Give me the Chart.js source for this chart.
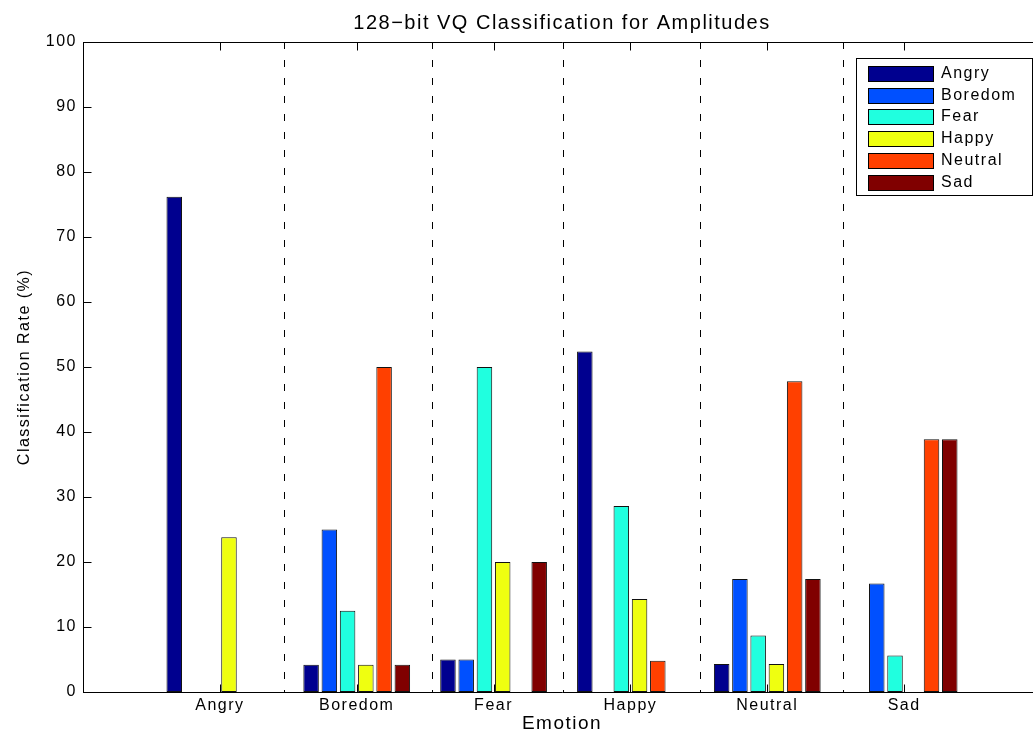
<!DOCTYPE html>
<html>
<head>
<meta charset="utf-8">
<script src="https://cdn.jsdelivr.net/npm/chart.js@4.4.1/dist/chart.umd.min.js"></script>
<style>
html, body { margin: 0; padding: 0; background: #fff; overflow: hidden; }
#wrap { width: 1045px; height: 733px; }
</style>
</head>
<body>
<div id="wrap"><canvas id="chart" width="1045" height="733"></canvas></div>
<script>
// true emotion of the test set (groups along x)
const emotions = ['Angry', 'Boredom', 'Fear', 'Happy', 'Neutral', 'Sad'];

// classification rate (%) per group, one array per predicted class
const angryRates   = [76.2, 4.2, 5.0, 52.4, 4.3, 0];
const boredomRates = [0, 25.0, 5.0, 0, 17.4, 16.7];
const fearRates    = [0, 12.5, 50.0, 28.6, 8.7, 5.6];
const happyRates   = [23.8, 4.2, 20.0, 14.3, 4.3, 0];
const neutralRates = [0, 50.0, 0, 4.8, 47.8, 38.9];
const sadRates     = [0, 4.2, 20.0, 0, 17.4, 38.9];

const seriesColors = ['#00008f', '#0050ff', '#20ffdf', '#efff10', '#ff4000', '#800000'];

// dashed separators between the groups (x in group units)
const dividers = [1.47, 2.55, 3.51, 4.51, 5.55];

const FONT = 'Liberation Sans, Arial, Helvetica, sans-serif';
Chart.defaults.font.family = FONT;
Chart.defaults.color = '#000';

const allRates = [angryRates, boredomRates, fearRates, happyRates, neutralRates, sadRates];

const datasets = allRates.map((rates, i) => ({
    label: emotions[i],
    data: rates.map((v, j) => ({ x: j + 1, y: v })),
    backgroundColor: seriesColors[i],
    borderColor: '#111',
    borderWidth: 1,
    borderSkipped: false
}));

// MATLAB-ish text is wider than Arial, add some spacing
const spacingPlugin = {
    id: 'spacing',
    beforeDraw(chart) {
        chart.ctx.letterSpacing = '1.5px';
    }
};

const framePlugin = {
    id: 'frame',
    beforeDatasetsDraw(chart) {
        const { ctx, chartArea, scales } = chart;
        ctx.save();
        ctx.strokeStyle = '#000';
        ctx.lineWidth = 1;
        ctx.setLineDash([7, 11]);
        dividers.forEach(d => {
            const x = Math.round(scales.x.getPixelForValue(d)) + 0.5;
            ctx.beginPath();
            ctx.moveTo(x, chartArea.top);
            ctx.lineTo(x, chartArea.bottom);
            ctx.stroke();
        });
        ctx.restore();
    },
    afterDatasetsDraw(chart) {
        const { ctx, chartArea, scales } = chart;
        const l = chartArea.left + 0.5, r = chartArea.right + 0.5;
        const t = chartArea.top + 0.5, b = chartArea.bottom + 0.5;
        ctx.save();
        ctx.strokeStyle = '#000';
        ctx.lineWidth = 1;
        ctx.beginPath();
        ctx.moveTo(l, t); ctx.lineTo(r, t); ctx.lineTo(r, b);
        ctx.stroke();

        // inward tick marks
        const len = 8;
        ctx.beginPath();
        scales.y.ticks.forEach(tk => {
            const y = Math.round(scales.y.getPixelForValue(tk.value)) + 0.5;
            ctx.moveTo(l, y); ctx.lineTo(l + len, y);
            ctx.moveTo(r, y); ctx.lineTo(r - len, y);
        });
        emotions.forEach((e, i) => {
            const x = Math.round(scales.x.getPixelForValue(i + 1)) + 0.5;
            ctx.moveTo(x, b); ctx.lineTo(x, b - len);
            ctx.moveTo(x, t); ctx.lineTo(x, t + len);
        });
        ctx.stroke();
        ctx.restore();
    }
};

const legendPlugin = {
    id: 'boxLegend',
    afterDraw(chart) {
        const ctx = chart.ctx;
        const left = 856, top = 58, w = 176, h = 137;
        ctx.save();
        ctx.fillStyle = '#fff';
        ctx.fillRect(left, top, w, h);
        ctx.strokeStyle = '#000';
        ctx.lineWidth = 1;
        ctx.strokeRect(left + 0.5, top + 0.5, w, h);
        ctx.font = '16px ' + FONT;
        ctx.textBaseline = 'middle';
        ctx.textAlign = 'left';
        chart.data.datasets.forEach((ds, i) => {
            const y = Math.round(66 + i * 21.7);
            ctx.fillStyle = ds.backgroundColor;
            ctx.fillRect(868, y, 65, 15);
            ctx.strokeRect(868.5, y + 0.5, 65, 15);
            ctx.fillStyle = '#000';
            ctx.fillText(ds.label, 941, y + 8);
        });
        ctx.restore();
    }
};

new Chart(document.getElementById('chart'), {
    type: 'bar',
    data: { datasets: datasets },
    options: {
        responsive: false,
        animation: false,
        layout: { padding: { left: 0, right: 3, top: 0, bottom: 0 } },
        datasets: { bar: { categoryPercentage: 0.8, barPercentage: 0.85 } },
        plugins: {
            legend: { display: false },
            tooltip: { enabled: false },
            title: {
                display: true,
                fullSize: false,
                text: '128\u2212bit VQ Classification for Amplitudes',
                color: '#000',
                font: { size: 20, weight: 'normal', lineHeight: 1.2 },
                padding: { top: 11, bottom: 7 }
            }
        },
        scales: {
            x: {
                type: 'linear',
                min: 0,
                max: 7,
                offset: false,
                afterFit: s => { s.height = 41; },
                grid: { display: false, drawTicks: false, offset: false },
                border: { display: true, color: '#000', width: 1 },
                ticks: {
                    stepSize: 1,
                    autoSkip: false,
                    maxRotation: 0,
                    padding: 4,
                    font: { size: 16 },
                    callback: v => emotions[v - 1] || ''
                },
                title: {
                    display: true,
                    text: 'Emotion',
                    font: { size: 19, lineHeight: 1 },
                    padding: { top: 0, bottom: 0 }
                }
            },
            y: {
                min: 0,
                max: 100,
                afterFit: s => { s.width = 83; },
                grid: { display: false, drawTicks: false },
                border: { display: true, color: '#000', width: 1 },
                ticks: { stepSize: 10, padding: 6, font: { size: 16 } },
                title: {
                    display: true,
                    text: 'Classification Rate (%)',
                    font: { size: 16, lineHeight: 1.2 },
                    padding: { top: 15, bottom: 0 }
                }
            }
        }
    },
    plugins: [spacingPlugin, framePlugin, legendPlugin]
});
</script>
</body>
</html>
